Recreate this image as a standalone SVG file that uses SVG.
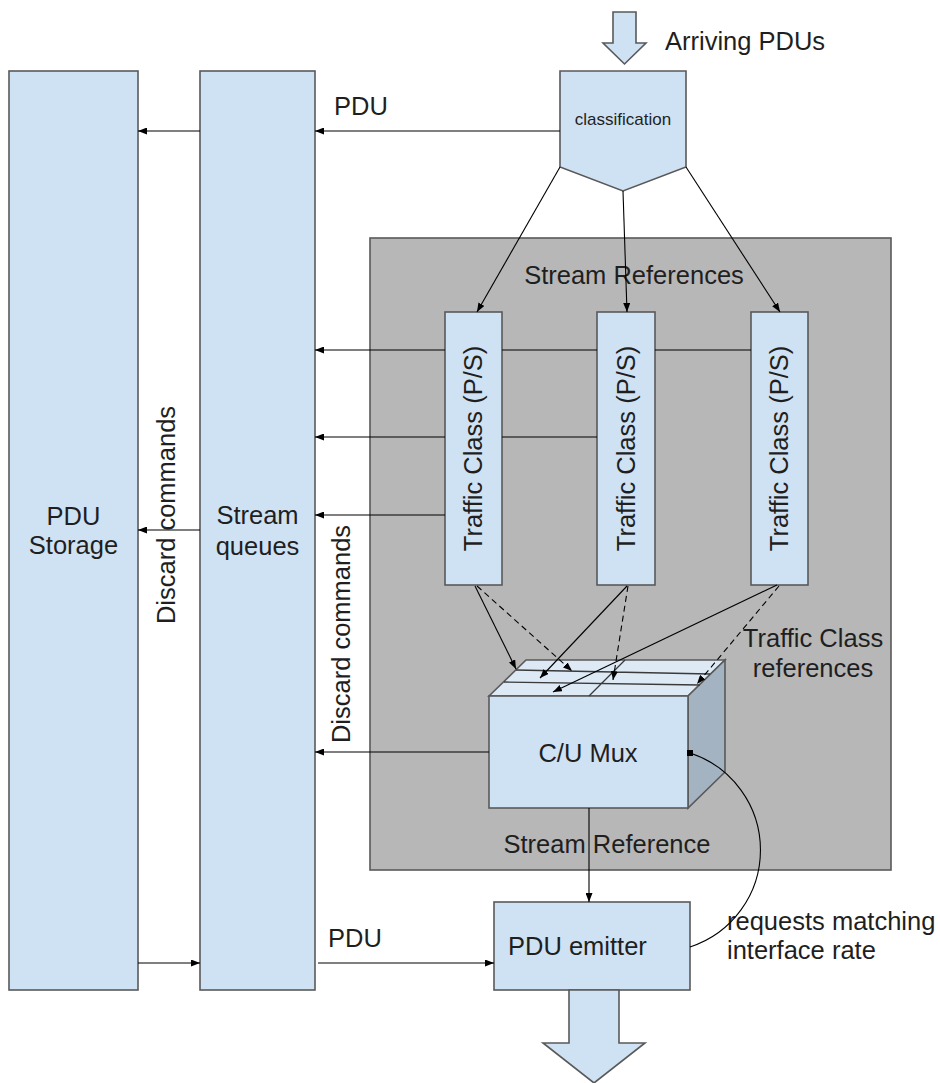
<svg xmlns="http://www.w3.org/2000/svg" width="940" height="1083" viewBox="0 0 940 1083">
  <style>
    .box { fill: #cfe2f3; stroke: #595959; stroke-width: 1.6; }
    .region { fill: #b7b7b7; stroke: #595959; stroke-width: 1.6; }
    .lbl { font-family: "Liberation Sans", Arial, sans-serif; font-size: 25.5px; fill: #1f1f1f; }
    .mid { text-anchor: middle; }
    .small { font-size: 17px; }
    .ln { fill: none; stroke: #000; stroke-width: 1.1; }
    .arr { marker-end: url(#head); }
    .dash { stroke-dasharray: 6 4; }
  </style>
  <defs>
    <marker id="head" viewBox="0 0 10 10" refX="10" refY="5" markerUnits="userSpaceOnUse" markerWidth="9" markerHeight="7" orient="auto" preserveAspectRatio="none">
      <path d="M0,0 L10,5 L0,10 z" fill="#000"/>
    </marker>
    <marker id="sq" viewBox="0 0 10 10" refX="5" refY="5" markerUnits="userSpaceOnUse" markerWidth="6" markerHeight="6" orient="0">
      <rect x="0" y="0" width="10" height="10" fill="#000"/>
    </marker>
  </defs>

  <!-- shaded area holding the stream references -->
  <g id="stream-references">
    <rect class="region" x="370" y="238" width="521" height="632"/>
    <text class="lbl mid" x="634" y="284">Stream References</text>
    <text class="lbl mid" x="813" y="647">Traffic Class</text>
    <text class="lbl mid" x="813" y="677">references</text>
    <text class="lbl mid" x="607" y="853">Stream Reference</text>
  </g>

  <g id="arriving">
    <polygon class="box" points="613,12 636,12 636,43 646,43 624.5,64 603,43 613,43"/>
    <text class="lbl" x="665" y="50">Arriving PDUs</text>
  </g>

  <g id="classification">
    <polygon class="box" points="560,71 686,71 686,167 623,191 560,167"/>
    <text class="lbl mid small" x="623" y="125">classification</text>
  </g>

  <g id="pdu-storage">
    <rect class="box" x="9" y="71" width="129" height="919"/>
    <text class="lbl mid" x="73.5" y="525">PDU</text>
    <text class="lbl mid" x="73.5" y="554">Storage</text>
  </g>

  <g id="stream-queues">
    <rect class="box" x="200" y="71" width="115" height="919"/>
    <text class="lbl mid" x="257.5" y="524">Stream</text>
    <text class="lbl mid" x="257.5" y="555">queues</text>
  </g>

  <g id="traffic-class-1">
    <rect class="box" x="445" y="312" width="57" height="273"/>
    <text class="lbl mid" transform="translate(482,448.5) rotate(-90)">Traffic Class (P/S)</text>
  </g>
  <g id="traffic-class-2">
    <rect class="box" x="597" y="312" width="58" height="273"/>
    <text class="lbl mid" transform="translate(635,448.5) rotate(-90)">Traffic Class (P/S)</text>
  </g>
  <g id="traffic-class-3">
    <rect class="box" x="751" y="312" width="57" height="273"/>
    <text class="lbl mid" transform="translate(788,448.5) rotate(-90)">Traffic Class (P/S)</text>
  </g>

  <!-- multiplexer drawn as a cube -->
  <g id="cu-mux">
    <polygon points="489,696 526,660 725,660 688,696" fill="#dde9f5" stroke="#595959" stroke-width="1.6"/>
    <polygon points="688,696 725,660 725,772 688,808" fill="#a4b3c2" stroke="#595959" stroke-width="1.6"/>
    <rect class="box" x="489" y="696" width="199" height="112"/>
    <path d="M516,670 L710,674 M504,682 L700,685 M589,696 L625,660" fill="none" stroke="#3a3a3a" stroke-width="1.3"/>
    <text class="lbl mid" x="588" y="762">C/U Mux</text>
  </g>

  <g id="pdu-emitter">
    <rect class="box" x="494" y="902" width="196" height="88"/>
    <text class="lbl" x="508" y="955">PDU emitter</text>
  </g>

  <g id="departing">
    <polygon class="box" points="569,990 619,990 619,1043 645,1043 594,1083 543,1043 569,1043"/>
  </g>

  <g id="labels">
    <text class="lbl" x="334" y="115">PDU</text>
    <text class="lbl" x="328" y="947">PDU</text>
    <text class="lbl mid" transform="translate(175,515) rotate(-90)">Discard commands</text>
    <text class="lbl mid" transform="translate(350,634) rotate(-90)">Discard commands</text>
    <text class="lbl" x="727" y="930">requests matching</text>
    <text class="lbl" x="727" y="959">interface rate</text>
  </g>

  <g id="connectors">
    <!-- PDU path along the top -->
    <path class="ln arr" d="M560,131 L315,131"/>
    <path class="ln arr" d="M200,131 L138,131"/>
    <!-- classification to traffic classes -->
    <path class="ln arr" d="M560,167 L477,312"/>
    <path class="ln arr" d="M623,191 L627,312"/>
    <path class="ln arr" d="M686,167 L780,312"/>
    <!-- traffic classes to stream queues -->
    <path class="ln" d="M751,350 L655,350 M597,350 L502,350"/>
    <path class="ln arr" d="M445,350 L315,350"/>
    <path class="ln" d="M597,437 L502,437"/>
    <path class="ln arr" d="M445,437 L315,437"/>
    <path class="ln arr" d="M445,515 L315,515"/>
    <!-- discard commands -->
    <path class="ln arr" d="M200,530 L138,530"/>
    <path class="ln arr" d="M489,752 L315,752"/>
    <!-- traffic classes to the multiplexer -->
    <path class="ln arr" d="M475,586 L516,669"/>
    <path class="ln arr" d="M627,586 L540,678"/>
    <path class="ln arr" d="M777,585 L553,692"/>
    <path class="ln arr dash" d="M477,586 L572,671"/>
    <path class="ln arr dash" d="M628,586 L613,680"/>
    <path class="ln arr dash" d="M779,586 L697,684"/>
    <!-- multiplexer to emitter -->
    <path class="ln arr" d="M589,808 L589,902"/>
    <!-- emitter input -->
    <path class="ln arr" d="M138,963 L200,963"/>
    <path class="ln arr" d="M318,963 L494,963"/>
    <!-- rate request loop -->
    <path class="ln" d="M690,947 A102,102 0 0 0 690,753" marker-end="url(#sq)"/>
  </g>
</svg>
